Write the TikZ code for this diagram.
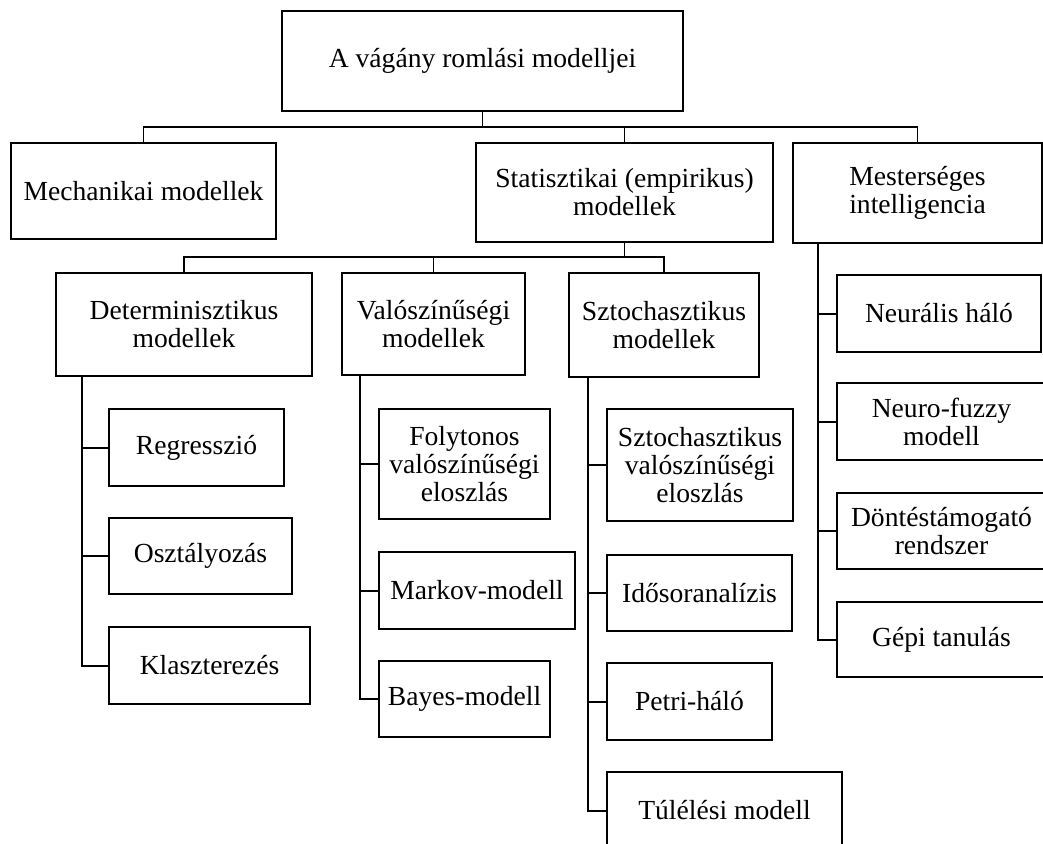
\documentclass[tikz,border=0pt]{standalone}
\usepackage{fontspec}
\setmainfont{Liberation Serif}
\begin{document}
\begin{tikzpicture}[x=1pt,y=-1pt,
  box/.style={draw=black, line width=1.6pt, rectangle, inner sep=0pt, align=center,
    font=\fontsize{27.6}{28}\selectfont},
  conn/.style={draw=black, line width=1.6pt},
  trunk/.style={draw=black, line width=2pt}]
\useasboundingbox (0,0) rectangle (1043,843);
% level 0
\node[box, minimum width=401, minimum height=100] (root) at (482.5,61) {A vágány romlási modelljei};
% level 1
\node[box, minimum width=265, minimum height=96] (mech) at (143.5,191) {Mechanikai modellek};
\node[box, minimum width=297, minimum height=99] (stat) at (624.5,192.5) {Statisztikai (empirikus)\\modellek};
\node[box, minimum width=249, minimum height=100] (mest) at (917.5,193) {Mesterséges\\intelligencia};
% level 2
\node[box, minimum width=256, minimum height=103] (det) at (184,324.5) {Determinisztikus\\modellek};
\node[box, minimum width=183, minimum height=102] (val) at (433.5,324) {Valószínűségi\\modellek};
\node[box, minimum width=190, minimum height=104] (szt) at (664,325) {Sztochasztikus\\modellek};
% determ children
\node[box, minimum width=175, minimum height=77] (reg) at (196.5,447.5) {Regresszió};
\node[box, minimum width=183, minimum height=76] (osz) at (200.5,556) {Osztályozás};
\node[box, minimum width=201, minimum height=77] (kla) at (209.5,665.5) {Klaszterezés};
% val children
\node[box, minimum width=171, minimum height=110] (fol) at (464.5,464) {Folytonos\\valószínűségi\\eloszlás};
\node[box, minimum width=196, minimum height=77] (mar) at (477,590.5) {Markov-modell};
\node[box, minimum width=171, minimum height=76] (bay) at (464.5,699) {Bayes-modell};
% szt children
\node[box, minimum width=186, minimum height=112] (szv) at (700,465) {Sztochasztikus\\valószínűségi\\eloszlás};
\node[box, minimum width=185, minimum height=76] (ido) at (699.5,593) {Idősoranalízis};
\node[box, minimum width=165, minimum height=77] (pet) at (689.5,701.5) {Petri-háló};
\node[box, minimum width=235, minimum height=77] (tul) at (724.5,810.5) {Túlélési modell};
% mest children
\node[box, minimum width=204, minimum height=77] (neu) at (939,313.5) {Neurális háló};
\node[box, minimum width=209, minimum height=77] (nfz) at (941.5,421.5) {Neuro-fuzzy\\modell};
\node[box, minimum width=209, minimum height=76] (don) at (941.5,531) {Döntéstámogató\\rendszer};
\node[box, minimum width=209, minimum height=75] (gep) at (941.5,639.5) {Gépi tanulás};
% connectors level 0 -> 1
\coordinate (b1) at (482.5,127);
\draw[conn] (root.south) -- (b1) -| (mech.north);
\draw[conn] (b1) -| (stat.north);
\draw[conn] (b1) -| (mest.north);
% connectors level 1 -> 2
\coordinate (b2) at (624.5,257);
\draw[conn] (stat.south) -- (b2) -| (det.north);
\draw[conn] (b2) -| (val.north);
\draw[conn] (b2) -| (szt.north);
% trunks
\coordinate (dtx) at (82,0);
\coordinate (vtx) at (360,0);
\coordinate (stx) at (588,0);
\coordinate (mtx) at (818,0);
\coordinate (dt) at (det.south -| dtx);
\coordinate (vt) at (val.south -| vtx);
\coordinate (st) at (szt.south -| stx);
\coordinate (mt) at (mest.south -| mtx);
\foreach \c in {reg,osz,kla} \draw[trunk] (dt) |- (\c.west);
\foreach \c in {fol,mar,bay} \draw[trunk] (vt) |- (\c.west);
\foreach \c in {szv,ido,pet,tul} \draw[trunk] (st) |- (\c.west);
\foreach \c in {neu,nfz,don,gep} \draw[trunk] (mt) |- (\c.west);
\end{tikzpicture}
\end{document}
